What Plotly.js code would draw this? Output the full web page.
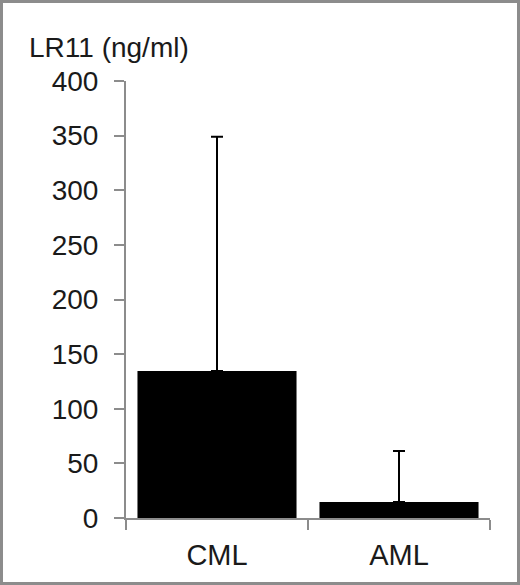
<!DOCTYPE html>
<html>
<head>
<meta charset="utf-8">
<script src="https://cdn.plot.ly/plotly-3.0.1.min.js"></script>
<style>
  html, body { margin: 0; padding: 0; background: #fff; }
  #wrap { position: relative; width: 520px; height: 585px; }
  #chart { position: absolute; left: 0; top: 0; width: 520px; height: 585px; }
  #frame { position: absolute; left: 0; top: 0; width: 520px; height: 585px; box-sizing: border-box; border: 3px solid #8c8c8c; pointer-events: none; }
</style>
</head>
<body>
<div id="wrap">
  <div id="chart"></div>
  <div id="frame"></div>
</div>
<script>
const categories = ["CML", "AML"];
const means = [134.5, 14.6];
const errorsPlus = [214.5, 46.7];
const yTicks = [0, 50, 100, 150, 200, 250, 300, 350, 400];
const yTitle = "LR11 (ng/ml)";

const font = "Liberation Sans, Arial, sans-serif";
const textColor = "#1a1a1a";

const trace = {
  type: "bar",
  x: categories,
  y: means,
  marker: { color: "#000000", line: { width: 0 } },
  error_y: {
    type: "data",
    array: errorsPlus,
    symmetric: false,
    arrayminus: [0, 0],
    color: "#000000",
    thickness: 2,
    width: 6
  },
  hoverinfo: "skip"
};

const layout = {
  width: 520,
  height: 585,
  margin: { l: 126, r: 30, t: 81, b: 67 },
  paper_bgcolor: "#ffffff",
  plot_bgcolor: "#ffffff",
  showlegend: false,
  bargap: 0.126,
  font: { family: font, color: textColor, size: 28 },
  xaxis: {
    type: "category",
    range: [-0.5, 1.5],
    showline: true,
    linecolor: "#8c8c8c",
    linewidth: 2,
    ticks: "outside",
    tickson: "boundaries",
    ticklen: 10,
    tickwidth: 2,
    tickcolor: "#8c8c8c",
    showgrid: false,
    zeroline: false,
    tickfont: { family: font, size: 29, color: textColor },
    ticklabelstandoff: 10
  },
  yaxis: {
    range: [0, 400],
    tickvals: yTicks,
    ticktext: yTicks.map(String),
    showline: true,
    linecolor: "#8c8c8c",
    linewidth: 2,
    ticks: "outside",
    ticklen: 10,
    tickwidth: 2,
    tickcolor: "#8c8c8c",
    showgrid: false,
    zeroline: false,
    tickfont: { family: font, size: 28, color: textColor },
    ticklabelstandoff: 10
  },
  annotations: [{
    text: yTitle,
    xref: "paper", yref: "paper",
    x: -0.272, y: 1.0,
    xanchor: "left", yanchor: "bottom",
    yshift: 16,
    showarrow: false,
    font: { family: font, size: 28, color: textColor }
  }]
};

Plotly.newPlot("chart", [trace], layout, { staticPlot: true, displayModeBar: false });
</script>
</body>
</html>
